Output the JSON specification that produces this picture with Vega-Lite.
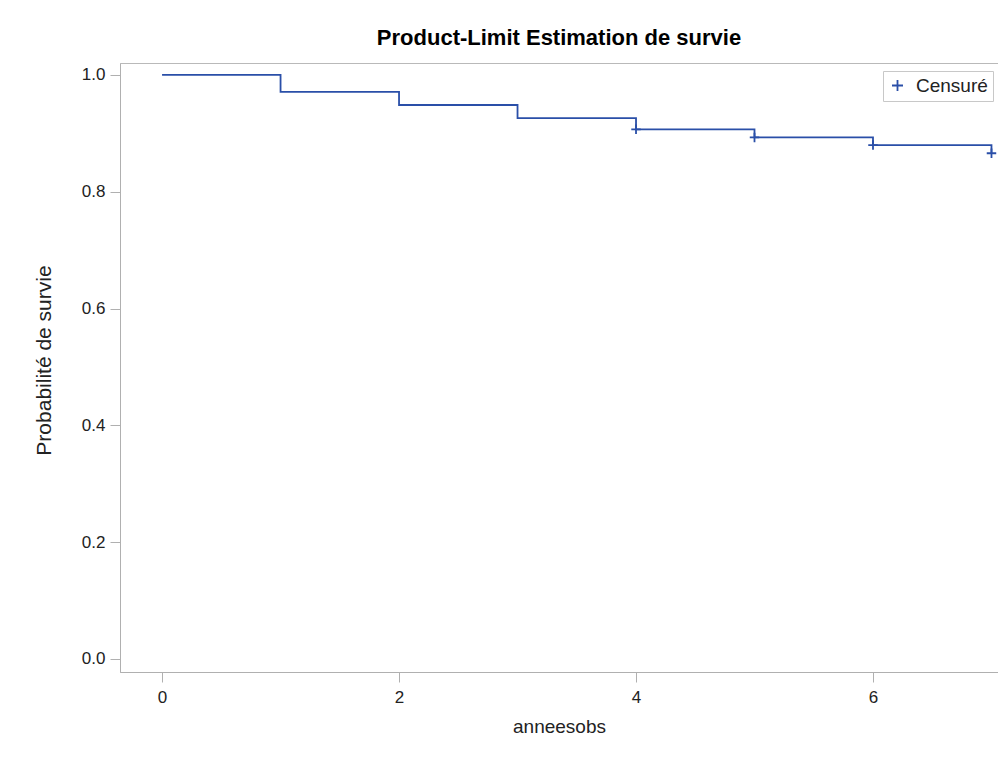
{
  "$schema": "https://vega.github.io/schema/vega-lite/v6.json",
  "autosize": {"type": "none"},
  "padding": {"left": 120, "top": 63, "right": 0, "bottom": 86},
  "width": 878,
  "height": 609,
  "background": "white",
  "title": {
    "text": "Product-Limit Estimation de survie",
    "font": "Liberation Sans",
    "fontSize": 22,
    "fontWeight": "bold",
    "color": "#000000",
    "anchor": "middle",
    "offset": 13
  },
  "config": {
    "view": {"stroke": "#b9b9b9", "strokeWidth": 1},
    "axis": {
      "labelFont": "Liberation Sans",
      "titleFont": "Liberation Sans",
      "labelFontSize": 17,
      "titleFontSize": 19,
      "titleFontWeight": "normal",
      "labelColor": "#222222",
      "titleColor": "#222222",
      "domainColor": "#b0b0b0",
      "tickColor": "#b0b0b0",
      "grid": false
    }
  },
  "datasets": {
    "km": [
      {"annee": 0, "surv": 1.0},
      {"annee": 1, "surv": 0.971},
      {"annee": 2, "surv": 0.9486},
      {"annee": 3, "surv": 0.926},
      {"annee": 4, "surv": 0.907},
      {"annee": 5, "surv": 0.893},
      {"annee": 6, "surv": 0.880},
      {"annee": 7, "surv": 0.866}
    ],
    "cens": [
      {"annee": 4, "surv": 0.907, "type": "Censuré"},
      {"annee": 5, "surv": 0.893, "type": "Censuré"},
      {"annee": 6, "surv": 0.880, "type": "Censuré"},
      {"annee": 7, "surv": 0.866, "type": "Censuré"}
    ]
  },
  "layer": [
    {
      "data": {"name": "km"},
      "mark": {"type": "line", "interpolate": "step-after", "color": "#2a4fa8", "strokeWidth": 1.8},
      "encoding": {
        "x": {
          "field": "annee", "type": "quantitative",
          "scale": {"domain": [-0.355, 7.055], "nice": false, "zero": false},
          "axis": {"title": "anneesobs", "values": [0, 2, 4, 6], "tickSize": 10, "labelPadding": 7, "titlePadding": 12, "format": "d"}
        },
        "y": {
          "field": "surv", "type": "quantitative",
          "scale": {"domain": [-0.0223, 1.0205], "nice": false, "zero": false},
          "axis": {"title": "Probabilité de survie", "values": [0, 0.2, 0.4, 0.6, 0.8, 1.0], "format": ".1f", "tickSize": 10, "labelPadding": 5, "titlePadding": 27, "titleFontSize": 21, "titleY": 297}
        }
      }
    },
    {
      "data": {"name": "cens"},
      "mark": {"type": "point", "filled": false, "strokeWidth": 1.8, "opacity": 1},
      "encoding": {
        "x": {"field": "annee", "type": "quantitative"},
        "y": {"field": "surv", "type": "quantitative"},
        "shape": {
          "field": "type", "type": "nominal",
          "scale": {"range": ["M-1,0H1M0,-1V1"]},
          "legend": {
            "title": null, "orient": "none", "legendX": 763, "legendY": 8,
            "strokeColor": "#c8c8c8", "padding": 5,
            "labelFont": "Liberation Sans", "labelFontSize": 19, "labelColor": "#222222",
            "labelOffset": 9,
            "symbolSize": 121, "symbolStrokeWidth": 1.8
          }
        },
        "color": {
          "field": "type", "type": "nominal",
          "scale": {"range": ["#2a4fa8"]},
          "legend": {
            "title": null, "orient": "none", "legendX": 763, "legendY": 8,
            "strokeColor": "#c8c8c8", "padding": 5,
            "labelFont": "Liberation Sans", "labelFontSize": 19, "labelColor": "#222222",
            "labelOffset": 9,
            "symbolSize": 121, "symbolStrokeWidth": 1.8
          }
        },
        "size": {"value": 90}
      }
    }
  ]
}
